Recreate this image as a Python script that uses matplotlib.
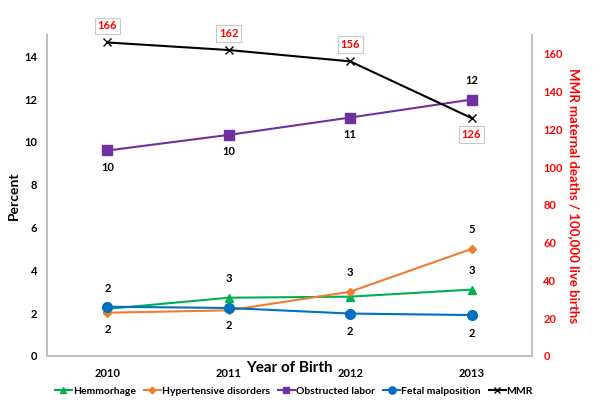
import matplotlib.pyplot as plt
import numpy as np

plt.rcParams["font.family"] = ["Lato", "DejaVu Sans"]
plt.rcParams["font.weight"] = "bold"

years = ["2010", "2011", "2012", "2013"]
hemmorhage = [2.2, 2.72, 2.77, 3.1]
hypertensive = [2.02, 2.13, 3.0, 5.0]
obstructed = [9.6, 10.33, 11.14, 11.98]
fetal = [2.3, 2.24, 1.98, 1.91]
mmr = [166, 162, 156, 126]

# data labels as printed (rounded percentages)
hem_labels = {1: "3", 3: "3"}
hyp_labels = {0: "2", 2: "3", 3: "5"}
obs_labels = {0: "10", 1: "10", 2: "11", 3: "12"}
fet_labels = {0: "2", 1: "2", 2: "2", 3: "2"}

GREEN = "#00B050"
ORANGE = "#ED7D31"
PURPLE = "#7030A0"
BLUE = "#0070C0"
RED = "#FF0000"
GREY = "#BFBFBF"

fig = plt.figure(figsize=(6, 4.11), dpi=100)
ax = fig.add_axes([0.078, 0.134, 0.809, 0.781])
ax2 = ax.twinx()

x = np.arange(len(years))
ax.plot(x, hemmorhage, color=GREEN, marker="^", ms=6, lw=1.5, label="Hemmorhage")
ax.plot(x, hypertensive, color=ORANGE, marker="D", ms=4.5, lw=1.5, label="Hypertensive disorders")
ax.plot(x, obstructed, color=PURPLE, marker="s", ms=6.5, lw=1.5, label="Obstructed labor")
ax.plot(x, fetal, color=BLUE, marker="o", ms=7, lw=1.5, label="Fetal malposition")
ax2.plot(x, mmr, color="black", marker="x", ms=6, mew=1, lw=1.5, label="MMR")

ax.set_xlim(-0.5, 3.5)
ax.set_ylim(0, 15)
ax2.set_ylim(0, 170)
ax.set_xticks(x)
ax.set_xticklabels(years)
ax.set_yticks(np.arange(0, 15, 2))
ax2.set_yticks(np.arange(0, 161, 20))

ax.tick_params(axis="both", length=0, labelsize=8, pad=7)
ax.tick_params(axis="x", pad=9)
ax2.tick_params(axis="y", length=0, labelsize=8, labelcolor=RED, pad=8)

for a in (ax, ax2):
    a.spines["top"].set_visible(False)
    for s in ("left", "right", "bottom"):
        a.spines[s].set_color(GREY)
        a.spines[s].set_linewidth(1.2)

ax.set_ylabel("Percent", fontsize=10, fontweight="bold", labelpad=3)
ax.set_xlabel("Year of Birth", fontsize=11, fontweight="bold", labelpad=-13)
ax2.set_ylabel("MMR maternal deaths / 100,000 live births", fontsize=9.5,
               fontweight="bold", color=RED, rotation=270, labelpad=12)

txt = dict(ha="center", fontsize=8, fontweight="bold", color="black",
           textcoords="offset points")
for i, s in hem_labels.items():
    ax.annotate(s, (x[i], hemmorhage[i]), xytext=(0, 10), va="bottom", **txt)
ax.annotate("2", (x[0], fetal[0]), xytext=(0, 9), va="bottom", **txt)
for i, s in hyp_labels.items():
    if i == 0:
        ax.annotate(s, (x[i], hypertensive[i]), xytext=(0, -8), va="top", **txt)
    else:
        ax.annotate(s, (x[i], hypertensive[i]), xytext=(0, 10), va="bottom", **txt)
for i, s in fet_labels.items():
    if i == 0:
        continue
    ax.annotate(s, (x[i], fetal[i]), xytext=(0, -9), va="top", **txt)
for i, s in obs_labels.items():
    if i == 3:
        ax.annotate(s, (x[i], obstructed[i]), xytext=(0, 10), va="bottom", **txt)
    else:
        ax.annotate(s, (x[i], obstructed[i]), xytext=(0, -8), va="top", **txt)

box = dict(boxstyle="square,pad=0.25", fc="white", ec="#C8C8C8", lw=0.8)
for i, v in enumerate(mmr):
    off, va = ((0, 8), "bottom") if i < 3 else ((0, -8), "top")
    ax2.annotate(str(v), (x[i], v), xytext=off, textcoords="offset points",
                 ha="center", va=va, fontsize=8, fontweight="bold", color=RED,
                 bbox=box)

h1, l1 = ax.get_legend_handles_labels()
h2, l2 = ax2.get_legend_handles_labels()
fig.legend(h1 + h2, l1 + l2, loc="center", bbox_to_anchor=(0.49, 0.048), ncol=5,
           frameon=False, prop={"size": 7.5, "weight": "bold"},
           handlelength=1.6, handletextpad=0.1, columnspacing=0.8,
           markerscale=0.75)

fig.savefig("out.png", dpi=100)
